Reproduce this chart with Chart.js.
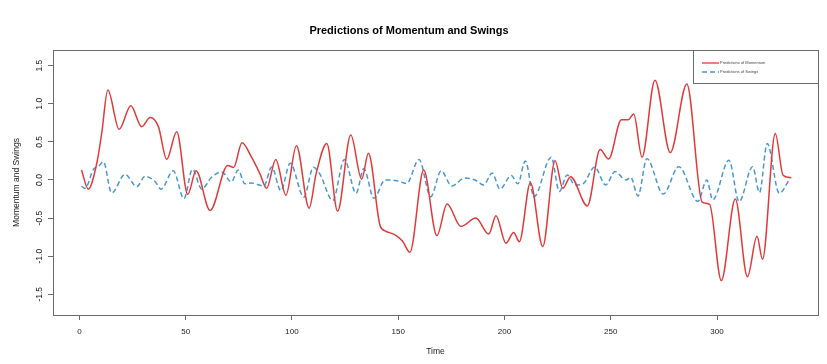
<!DOCTYPE html>
<html><head><meta charset="utf-8">
<script src="https://cdn.jsdelivr.net/npm/chart.js@4"></script>
<style>html,body{margin:0;padding:0;background:#fff;}#wrap{width:827px;height:364px;}</style>
</head><body><div id="wrap"><canvas id="c" width="827" height="364"></canvas></div>
<script>
const chartTitle = 'Predictions of Momentum and Swings';
const xAxisTitle = 'Time';
const yAxisTitle = 'Momentum and Swings';
const seriesNames = ['Predictions of Momentum', 'Predictions of Swings'];
const xTickValues = [0, 50, 100, 150, 200, 250, 300];
const yTickValues = [-1.5, -1.0, -0.5, 0.0, 0.5, 1.0, 1.5];

const momentumTime = [1, 4.2, 8.2, 10.5, 13.4, 18.7, 24.2, 29.3, 33.3, 37.2, 41.1, 45.8, 51.0, 54.9, 61.5,
  69.8, 72.6, 76.5, 81, 85, 88.1, 92.4, 97.2, 102.1, 108.1, 111.3, 116.4, 121.5, 127.7, 132.8, 136,
  141.5, 144, 148.5, 152, 155.5, 162, 168.2, 173, 179.5, 186.5, 192.6, 196, 200.7, 204.3, 207, 212.2,
  218, 223.8, 227.4, 231.1, 239, 245, 249, 255, 258.2, 260.8, 264.7, 270.8, 278, 285.8, 293, 296.5,
  302, 308.6, 314.3, 318.8, 321.4, 327.4, 331.1, 335];
const momentumValue = [0.13, -0.12, 0.22, 0.61, 1.18, 0.665, 0.975, 0.70, 0.82, 0.70, 0.27, 0.634, -0.19, 0.12, -0.40,
  0.19, 0.165, 0.49, 0.30, 0.08, -0.11, 0.27, -0.20, 0.45, -0.37, 0.07, 0.48, -0.41, 0.59, 0.01, 0.35,
  -0.60, -0.67, -0.72, -0.80, -0.95, 0.13, -0.73, -0.315, -0.61, -0.50, -0.71, -0.47, -0.83, -0.69, -0.81, -0.035,
  -0.875, 0.255, -0.11, 0.044, -0.34, 0.40, 0.275, 0.79, 0.79, 0.866, 0.30, 1.31, 0.36, 1.26, -0.29, -0.32,
  -1.32, -0.25, -1.27, -0.74, -1.04, 0.61, 0.06, 0.03];

const swingsTime = [1, 2.7, 6.6, 8.9, 11.3, 15.2, 21.5, 27, 30.9, 35.6, 38.4, 44.2, 49.2, 53.2, 57.6, 62,
  67, 71.5, 74.7, 77.9, 81, 86.8, 90.5, 94.8, 99.2, 105.6, 110.1, 113.2, 119.2, 124.7, 130.2, 133.8,
  138.6, 143.8, 149.3, 154, 159.8, 165.3, 170.2, 175.2, 181.3, 186.1, 190.2, 194.2, 197.9, 203.2, 206.3,
  209.8, 213.9, 222, 225.8, 229.5, 233.2, 237, 242.4, 247.6, 252, 257.2, 259.4, 262.8, 267, 274.7,
  282, 291, 295.2, 298, 305.6, 310.4, 316.7, 320, 323.6, 329.3, 334.3];
const swingsValue = [-0.08, -0.11, 0.14, 0.175, 0.24, -0.17, 0.075, -0.087, 0.048, -0.02, -0.12, 0.12, -0.245, 0.14, -0.12, 0.03,
  0.105, -0.025, 0.13, -0.05, -0.04, -0.08, 0.17, -0.14, 0.22, -0.225, 0.167, 0.075, -0.27, 0.27, -0.175, 0.15,
  -0.24, 0.0, -0.01, -0.045, 0.27, -0.22, 0.12, -0.08, 0.025, 0.0, -0.066, 0.092, -0.12, 0.06, -0.05,
  0.25, -0.22, 0.30, -0.15, 0.066, -0.066, -0.05, 0.17, -0.066, 0.11, 0.0, 0.035, -0.21, 0.28, -0.185,
  0.175, -0.28, 0.0, -0.26, 0.26, -0.285, 0.175, -0.165, 0.48, -0.175, 0.02];

const FONT = 'Liberation Sans, Arial, sans-serif';
const RED = '#E03A3A';
const BLUE = '#4A97D4';

const boxPlugin = {
  id: 'rbox',
  afterDraw(chart) {
    const a = chart.chartArea, ctx = chart.ctx;
    ctx.save();
    ctx.strokeStyle = '#6a6a6a';
    ctx.lineWidth = 1;
    ctx.strokeRect(Math.round(a.left) + 0.5, Math.round(a.top) + 0.5, Math.round(a.right - a.left), Math.round(a.bottom - a.top));
    // legend
    const w = 125, h = 33;
    const x0 = Math.round(a.right) - w, y0 = Math.round(a.top);
    ctx.strokeRect(x0 + 0.5, y0 + 0.5, w, h);
    const colors = [RED, BLUE], dashes = [[], [5, 3]], ys = [y0 + 13, y0 + 22];
    ctx.font = '4px ' + FONT;
    ctx.textBaseline = 'middle';
    for (let i = 0; i < 2; i++) {
      ctx.strokeStyle = colors[i];
      ctx.lineWidth = 1.3;
      ctx.setLineDash(dashes[i]);
      ctx.beginPath(); ctx.moveTo(x0 + 9, ys[i]); ctx.lineTo(x0 + 26, ys[i]); ctx.stroke();
      ctx.setLineDash([]);
      ctx.fillStyle = '#444';
      ctx.fillText(seriesNames[i], x0 + 27, ys[i]);
    }
    ctx.restore();
  }
};

new Chart(document.getElementById('c'), {
  type: 'line',
  data: {
    datasets: [
      { label: seriesNames[0], data: momentumTime.map((t, i) => ({ x: t, y: momentumValue[i] })),
        borderColor: RED, borderWidth: 1.5, pointRadius: 0, cubicInterpolationMode: 'monotone', fill: false },
      { label: seriesNames[1], data: swingsTime.map((t, i) => ({ x: t, y: swingsValue[i] })),
        borderColor: BLUE, borderWidth: 1.5, borderDash: [5, 3], pointRadius: 0, cubicInterpolationMode: 'monotone', fill: false }
    ]
  },
  options: {
    responsive: false, animation: false, devicePixelRatio: 1,
    layout: { padding: { left: 0, right: 9, top: 0, bottom: 0 } },
    plugins: {
      legend: { display: false },
      tooltip: { enabled: false },
      title: { display: true, text: chartTitle, color: '#000',
        font: { family: FONT, size: 11, weight: 'bold' }, padding: { top: 24, bottom: 12.8 } }
    },
    scales: {
      x: {
        type: 'linear', min: -12.4, max: 347.5,
        afterBuildTicks: s => { s.ticks = xTickValues.map(v => ({ value: v })); },
        afterFit: s => { s.height = 49; },
        grid: { drawOnChartArea: false, drawTicks: true, tickLength: 5, color: '#6a6a6a' },
        border: { display: false },
        ticks: { autoSkip: false, maxRotation: 0, padding: 7, color: '#222', font: { family: FONT, size: 8 }, callback: v => String(v) },
        title: { display: true, text: xAxisTitle, color: '#222', font: { family: FONT, size: 8.5 }, padding: { top: 0, bottom: 7 } }
      },
      y: {
        type: 'linear', min: -1.772, max: 1.706,
        afterBuildTicks: s => { s.ticks = yTickValues.map(v => ({ value: v })); },
        afterFit: s => { s.width = 53; },
        grid: { drawOnChartArea: false, drawTicks: true, tickLength: 5, color: '#6a6a6a' },
        border: { display: false },
        ticks: { autoSkip: false, minRotation: 90, maxRotation: 90, crossAlign: 'center', padding: 1, color: '#222',
          font: { family: FONT, size: 8.5 }, callback: v => Number(v).toFixed(1) },
        title: { display: true, text: yAxisTitle, color: '#222', font: { family: FONT, size: 8.5 }, padding: { top: 12, bottom: 0 } }
      }
    }
  },
  plugins: [boxPlugin]
});
</script>
</body></html>
